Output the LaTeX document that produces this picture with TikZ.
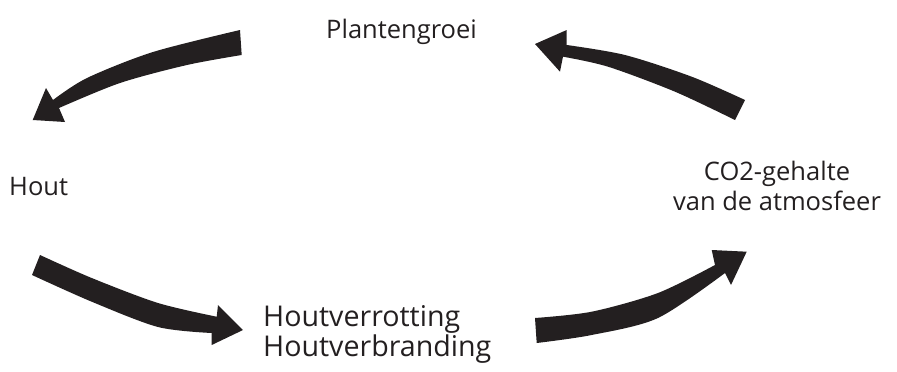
\documentclass[tikz,border=0pt]{standalone}
\usepackage{fontspec}
\setmainfont{Open Sans}
\usetikzlibrary{positioning,calc}
\definecolor{inkgrey}{RGB}{35,31,32}

\tikzset{
  cyclearrow/.style={fill=inkgrey, draw=none},
  cyclelabel/.style={text=inkgrey, inner sep=0pt, font=\fontsize{25.5}{30}\selectfont},
}

\begin{document}
\begin{tikzpicture}[x=1pt, y=-1pt]
\useasboundingbox (0,0) rectangle (897,372);

% Labels
\node[cyclelabel, anchor=base west] (plant) at (326,38.5) {Plantengroei};
\node[cyclelabel, anchor=base west] (hout) at (9,195) {Hout};
\node[cyclelabel, anchor=base, align=center] (co2) at (777,210.5) {CO2-gehalte\\van de atmosfeer};
\node[cyclelabel, anchor=base west, align=left, font=\fontsize{28.6}{30}\selectfont] (rot) at (263,356.5) {Houtverrotting\\Houtverbranding};

% Plantengroei -> Hout
\coordinate (A) at (240,30);
\coordinate (B) at (241.7,55);
\fill[cyclearrow] (A) --plot[smooth] coordinates {(A) (153,52) (87,78) (53,100)}
  -- (46,88) -- (32.7,120) -- (65,122) -- (59,108)
  --plot[smooth] coordinates {(59,108) (120,83) (187,65) (B)} -- cycle;

% Hout -> Houtverrotting
\coordinate (C) at (40,255);
\coordinate (D) at (32,275);
\fill[cyclearrow] (C) --plot[smooth] coordinates {(C) (91.7,278) (158,303) (216.7,316.7)}
  -- (218,305) -- (243,330) -- (211.7,345) -- (211.7,333)
  --plot[smooth] coordinates {(211.7,333) (158,327) (91.7,301.7) (D)} -- cycle;

% Houtverrotting -> CO2
\coordinate (E) at (535,318);
\coordinate (F) at (536.7,343);
\fill[cyclearrow] (E) --plot[smooth] coordinates {(E) (591.7,311.7) (658,293) (715,265)}
  -- (711.7,250) -- (746.7,251.7) -- (731,285) -- (725,273)
  --plot[smooth] coordinates {(725,273) (658,318) (591.7,335) (F)} -- cycle;

% CO2 -> Plantengroei
\coordinate (G) at (745,100);
\coordinate (H) at (735,120);
\fill[cyclearrow] (G) --plot[smooth] coordinates {(G) (691.7,76.7) (625,55) (566.7,45)}
  -- (566.7,30) -- (535,44) -- (560,71.7) -- (563,56.7)
  --plot[smooth] coordinates {(563,56.7) (608,66.7) (675,91.7) (H)} -- cycle;

\end{tikzpicture}
\end{document}
